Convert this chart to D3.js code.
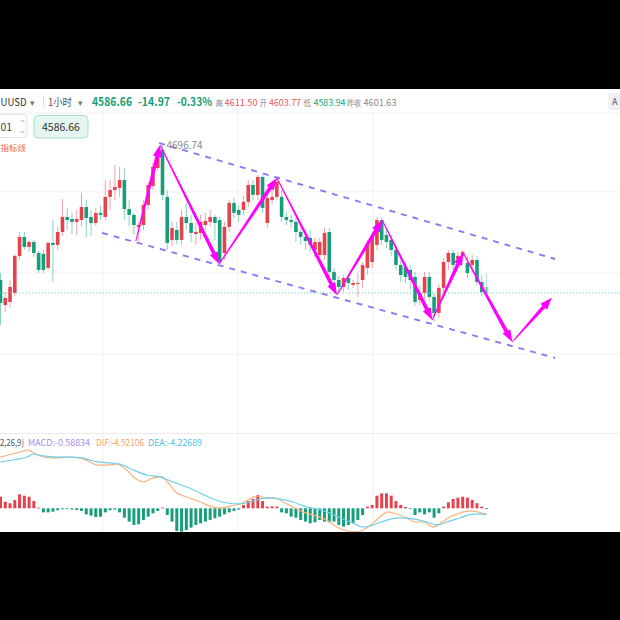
<!DOCTYPE html>
<html>
<head>
<meta charset="utf-8">
<title>XAUUSD 1小时</title>
<script src="https://cdnjs.cloudflare.com/ajax/libs/d3/7.8.5/d3.min.js"></script>
<style>
body { margin: 0; background: #000; }
svg { display: block; }
text { font-family: "Noto Sans CJK SC", "Noto Sans", sans-serif; }
</style>
</head>
<body>
<div id="chart"></div>
<script>
// hourly candles, oldest first
var open = [4596.3, 4577.7, 4580.0, 4586.7, 4614.2, 4628.3, 4620.9, 4624.6, 4616.4, 4615.7,
  4605.3, 4623.9, 4622.4, 4632.0, 4643.2, 4641.7, 4639.5, 4640.9, 4650.6, 4643.2,
  4638.7, 4646.2, 4643.2, 4658.1, 4663.3, 4664.8, 4670.7, 4649.1, 4644.7, 4635.8,
  4637.2, 4652.1, 4666.2, 4679.6, 4693.0, 4658.1, 4626.1, 4633.5, 4626.1, 4643.2,
  4638.7, 4630.5, 4631.3, 4637.2, 4639.5, 4643.2, 4640.9, 4616.4, 4635.8, 4653.6,
  4648.4, 4648.4, 4654.4, 4667.0, 4659.6, 4672.9, 4638.7, 4655.8, 4658.1, 4658.1,
  4643.2, 4640.9, 4639.5, 4632.0, 4628.3, 4627.6, 4618.6, 4614.9, 4614.9, 4632.0,
  4602.3, 4596.3, 4591.1, 4597.8, 4592.6, 4593.4, 4596.3, 4605.3, 4609.7, 4622.4,
  4640.9, 4629.8, 4626.1, 4618.6, 4607.5, 4606.0, 4603.8, 4598.6, 4581.5, 4586.7,
  4598.6, 4583.7, 4571.8, 4590.4, 4609.7, 4616.4, 4611.9, 4614.2, 4609.0, 4607.5,
  4611.2, 4594.8, 4591.1];
var high = [4601.5, 4587.4, 4596.3, 4615.7, 4632.0, 4632.0, 4626.1, 4626.1, 4617.9, 4618.6,
  4624.6, 4640.9, 4635.8, 4656.6, 4649.9, 4646.2, 4648.4, 4661.0, 4655.8, 4648.4,
  4649.9, 4651.4, 4670.7, 4670.7, 4681.9, 4680.4, 4679.6, 4655.8, 4646.2, 4639.5,
  4655.8, 4669.2, 4683.4, 4694.0, 4696.74, 4663.3, 4639.5, 4639.5, 4648.4, 4653.6,
  4644.7, 4638.7, 4644.7, 4646.2, 4648.4, 4644.7, 4643.2, 4639.5, 4655.8, 4657.3,
  4652.1, 4658.8, 4670.7, 4670.7, 4674.4, 4674.4, 4661.0, 4667.0, 4672.2, 4663.3,
  4646.9, 4644.7, 4642.4, 4635.0, 4633.5, 4633.5, 4627.6, 4627.6, 4635.0, 4635.0,
  4605.3, 4599.3, 4600.0, 4600.0, 4596.3, 4601.5, 4609.7, 4626.1, 4632.0, 4643.2,
  4643.2, 4633.5, 4629.1, 4621.6, 4611.2, 4609.7, 4607.5, 4602.3, 4592.6, 4602.3,
  4602.3, 4586.7, 4593.4, 4612.7, 4618.6, 4618.6, 4617.2, 4618.6, 4614.2, 4614.9,
  4614.2, 4600.0, 4601.5];
var low = [4562.9, 4572.5, 4575.5, 4584.4, 4611.2, 4618.6, 4617.2, 4613.4, 4601.5, 4601.5,
  4603.8, 4594.8, 4618.6, 4629.1, 4633.5, 4630.5, 4629.8, 4635.8, 4628.3, 4629.1,
  4636.5, 4640.9, 4640.9, 4648.4, 4655.8, 4658.1, 4640.9, 4636.5, 4629.8, 4625.3,
  4633.5, 4648.4, 4663.3, 4677.4, 4655.8, 4618.6, 4621.6, 4623.1, 4622.4, 4633.5,
  4624.6, 4622.4, 4626.1, 4633.5, 4635.8, 4626.1, 4608.2, 4611.2, 4632.0, 4642.4,
  4639.5, 4644.7, 4650.6, 4655.8, 4655.8, 4646.2, 4635.0, 4652.1, 4655.8, 4639.5,
  4637.2, 4635.0, 4624.6, 4622.4, 4618.6, 4617.2, 4612.7, 4609.7, 4611.2, 4598.6,
  4592.6, 4587.4, 4587.4, 4588.9, 4590.4, 4583.7, 4590.4, 4600.0, 4605.3, 4618.6,
  4622.4, 4620.1, 4614.2, 4603.8, 4594.8, 4594.1, 4588.9, 4577.0, 4577.7, 4581.5,
  4581.5, 4565.1, 4568.1, 4587.4, 4603.8, 4603.8, 4608.2, 4611.2, 4597.8, 4602.3,
  4591.9, 4584.4, 4583.94];
var close = [4579.2, 4582.9, 4591.1, 4614.2, 4628.3, 4620.9, 4624.6, 4616.4, 4603.8, 4603.8,
  4623.9, 4622.4, 4632.0, 4643.2, 4640.9, 4639.5, 4641.7, 4650.6, 4642.4, 4638.7,
  4646.2, 4644.7, 4658.1, 4663.3, 4665.5, 4670.7, 4649.1, 4644.7, 4637.2, 4637.2,
  4652.1, 4667.0, 4680.4, 4692.0, 4659.6, 4623.9, 4635.0, 4626.1, 4643.2, 4638.7,
  4631.3, 4632.0, 4639.5, 4640.2, 4643.2, 4638.7, 4609.7, 4635.8, 4653.6, 4646.2,
  4644.7, 4654.4, 4667.0, 4659.6, 4672.9, 4649.9, 4657.3, 4658.1, 4669.2, 4643.2,
  4640.9, 4639.5, 4632.0, 4628.3, 4625.3, 4622.4, 4624.6, 4624.6, 4631.3, 4602.3,
  4596.3, 4591.1, 4597.8, 4594.1, 4594.1, 4594.1, 4607.5, 4622.4, 4628.3, 4640.9,
  4626.1, 4624.6, 4618.6, 4607.5, 4600.0, 4598.6, 4596.3, 4580.0, 4586.7, 4598.6,
  4583.7, 4571.8, 4590.4, 4609.7, 4616.4, 4607.5, 4614.2, 4617.2, 4601.5, 4611.2,
  4594.8, 4587.4, 4586.66];

// MACD(12,26,9) histogram, one bar per candle
var hist = [8.3, 4.7, 3.6, 5.9, 10.0, 9.0, 8.3, 5.2, 0.5, -2.9,
  -2.9, -2.4, -1.4, -0.7, -0.5, -0.9, -1.2, -1.9, -4.3, -5.2,
  -6.2, -6.0, -2.9, -1.4, -0.9, -2.9, -6.7, -9.5, -11.9, -11.4,
  -8.3, -6.0, -3.6, -1.9, 0.5, -4.8, -9.5, -16.2, -16.7, -15.5,
  -13.8, -11.9, -10.7, -9.5, -8.3, -7.1, -6.0, -4.3, -2.9, -1.9,
  -0.9, 2.4, 5.2, 6.7, 9.5, 5.2, 1.2, 1.4, 1.2, -2.9,
  -3.6, -6.0, -6.7, -8.3, -9.5, -10.7, -10.0, -8.3, -9.5, -10.0,
  -9.5, -11.9, -13.1, -11.9, -10.7, -8.3, -4.8, 1.2, 2.4, 9.0,
  10.7, 10.7, 9.0, 5.2, 2.4, 1.0, -0.5, -4.8, -2.9, -4.3,
  -2.9, -6.7, -3.6, 1.2, 4.3, 6.7, 7.6, 8.3, 7.6, 6.0,
  3.6, 1.2, -0.59];

// DIF / DEA read at these candle positions
var difIdx = [0, 4.1, 5.8, 7.7, 11.0, 14.0, 16.7, 18.8, 20.3, 22.4, 24.4, 26.5, 28.2, 29.9, 32.0,
  33.9, 35.2, 37.0, 39.1, 41.9, 44.6, 46.1, 48.2, 50.3, 51.9, 53.8, 55.9, 57.6, 59.3, 61.4,
  63.5, 65.6, 68.5, 70.6, 72.7, 74.8, 76.1, 78.0, 79.6, 81.3, 83.2, 85.3, 87.0, 88.7, 90.8,
  92.7, 94.3, 96.4, 98.5, 100.2, 102];
var difVal = [36.6, 40.2, 41.6, 38.1, 35.9, 36.6, 35.9, 33.1, 30.9, 30.9, 31.6, 27.4, 21.6, 18.8, 21.6,
  22.4, 18.1, 10.9, 8.1, 4.5, 0.9, 0.2, 1.6, 3.1, 5.9, 8.8, 7.4, 7.4, 4.5, 0.9,
  -2.6, -4.8, -8.4, -13.4, -16.2, -16.9, -15.5, -11.2, -6.2, -2.6, -4.1, -6.9, -9.8, -9.8, -13.4,
  -9.8, -6.2, -3.4, -1.9, -2.6, -4.52];
var deaIdx = [0, 2.6, 5.6, 6.8, 8.9, 11.9, 14.6, 17.3, 20.3, 23.0, 25.1, 27.8, 30.7, 33.5, 36.2,
  39.1, 41.9, 44.6, 47.5, 50.3, 53.0, 55.9, 58.7, 61.4, 64.3, 65.6, 68.5, 71.3, 74.0, 76.1,
  78.2, 81.1, 83.8, 86.6, 89.5, 91.6, 93.7, 96.4, 99.2, 102];
var deaVal = [33.1, 34.5, 36.6, 38.8, 37.4, 36.6, 36.6, 35.9, 33.1, 32.4, 31.6, 27.4, 23.8, 22.4, 18.8,
  15.2, 10.9, 6.6, 3.8, 3.1, 5.2, 7.4, 6.6, 4.5, 0.9, 0.2, -2.6, -6.9, -10.5, -13.4,
  -11.9, -8.4, -6.9, -7.6, -9.8, -11.9, -9.8, -6.9, -4.1, -4.23];

// drawn annotations: zigzag arrows and the falling channel (candle index, price)
var zigIdx = [28.4, 33.5, 45.9, 58.0, 70.6, 80.1, 90.6, 97.1, 107.4, 115.7];
var zigPrice = [4625.3, 4696.74, 4608.2, 4672.2, 4585.2, 4640.9, 4566.6, 4616.4, 4550.2, 4583.0];
var upperIdx = [33.3, 116.4];
var upperPrice = [4698.2, 4611.9];
var lowerIdx = [21.3, 116.4];
var lowerPrice = [4631.3, 4538.3];

var gridPrice = [4661.8, 4601.5, 4541.3];
var gridIdx = [21.5, 49.8, 78.2];
var lastPrice = 4586.66;
var peakLabel = "4696.74";

var red = "#e4434e", green = "#169e7a";
var redWick = "#f3a2a8", greenWick = "#88d3bf";

var W = 620, H = 620;
var svg = d3.select("#chart").append("svg")
            .attr("width", W)
            .attr("height", H);

svg.append("rect").attr("width", W).attr("height", H).attr("fill", "#000");
svg.append("rect").attr("x", 0).attr("y", 89).attr("width", W).attr("height", 443).attr("fill", "#fff");

var xScale = d3.scaleLinear().domain([0, 102]).range([0.5, 486.5]);
var yScale = d3.scaleLinear().domain([4482.5, 4720.5]).range([433, 113]);
var mScale = d3.scaleLinear().domain([-20, 50]).range([536.3, 438.3]);

var defs = svg.append("defs");
defs.append("clipPath").attr("id", "mainClip")
    .append("rect").attr("x", 0).attr("y", 113).attr("width", W).attr("height", 320);
defs.append("clipPath").attr("id", "macdClip")
    .append("rect").attr("x", 0).attr("y", 434).attr("width", W).attr("height", 98);

// grid
svg.append("line").attr("x1", 0).attr("x2", W).attr("y1", 113).attr("y2", 113)
   .attr("stroke", "#f0f0f0");
svg.selectAll(".hgrid").data(gridPrice).enter().append("line")
   .attr("x1", 0).attr("x2", W)
   .attr("y1", d => yScale(d)).attr("y2", d => yScale(d))
   .attr("stroke", "#f2f2f2");
svg.selectAll(".vgrid").data(gridIdx).enter().append("line")
   .attr("x1", d => xScale(d)).attr("x2", d => xScale(d))
   .attr("y1", 113).attr("y2", 532)
   .attr("stroke", "#f2f2f2");
svg.append("line").attr("x1", 0).attr("x2", W).attr("y1", 433.5).attr("y2", 433.5)
   .attr("stroke", "#ececec");

// candles
var idx = d3.range(open.length);
var main = svg.append("g").attr("clip-path", "url(#mainClip)");
var isUp = i => close[i] >= open[i];
var lastI = open.length - 1;

main.selectAll(".wick").data(idx).enter().append("line")
    .attr("x1", i => xScale(i)).attr("x2", i => xScale(i))
    .attr("y1", i => yScale(high[i])).attr("y2", i => yScale(low[i]))
    .attr("stroke", i => isUp(i) ? redWick : greenWick)
    .attr("stroke-width", 1)
    .attr("opacity", i => i === lastI ? 0.6 : 1);

main.selectAll(".body").data(idx).enter().append("rect")
    .attr("x", i => xScale(i) - 1.8)
    .attr("width", 3.6)
    .attr("y", i => yScale(Math.max(open[i], close[i])))
    .attr("height", i => Math.max(1, Math.abs(yScale(open[i]) - yScale(close[i]))))
    .attr("fill", i => isUp(i) ? red : green)
    .attr("opacity", i => i === lastI ? 0.45 : 1);

// last price line
main.append("line")
    .attr("x1", 0).attr("x2", W)
    .attr("y1", yScale(lastPrice)).attr("y2", yScale(lastPrice))
    .attr("stroke", "#5ccbbd").attr("stroke-width", 1)
    .attr("stroke-dasharray", "1.2,2");

// channel
function channel(ix, pr) {
    main.append("line")
        .attr("x1", xScale(ix[0])).attr("y1", yScale(pr[0]))
        .attr("x2", xScale(ix[1])).attr("y2", yScale(pr[1]))
        .attr("stroke", "#8e78f3").attr("stroke-width", 1.9)
        .attr("stroke-dasharray", "6,6");
}
channel(upperIdx, upperPrice);
channel(lowerIdx, lowerPrice);

// tapered arrow from a to b
function arrowShape(a, b) {
    var dx = b[0] - a[0], dy = b[1] - a[1];
    var len = Math.sqrt(dx * dx + dy * dy);
    var ux = dx / len, uy = dy / len, nx = -uy, ny = ux;
    var headLen = 12, headW = 4.4, w0 = 0.5, w1 = 1.9;
    var bx = b[0] - ux * headLen, by = b[1] - uy * headLen;
    return [
        [a[0] + nx * w0, a[1] + ny * w0],
        [bx + nx * w1, by + ny * w1],
        [bx + nx * headW, by + ny * headW],
        b,
        [bx - nx * headW, by - ny * headW],
        [bx - nx * w1, by - ny * w1],
        [a[0] - nx * w0, a[1] - ny * w0]
    ];
}
var zigPts = zigIdx.map((d, i) => [xScale(d), yScale(zigPrice[i])]);
var segs = d3.range(zigPts.length - 1);
main.selectAll(".arrow").data(segs).enter().append("polygon")
    .attr("points", i => arrowShape(zigPts[i], zigPts[i + 1]).map(p => p.join(",")).join(" "))
    .attr("fill", "#ff00ff");

main.append("text")
    .attr("x", xScale(34) + 4).attr("y", yScale(high[34]) + 4)
    .attr("font-size", "10px").attr("fill", "#8a8a8a")
    .text(peakLabel);

// MACD pane
var macd = svg.append("g").attr("clip-path", "url(#macdClip)");
macd.selectAll(".hbar").data(idx).enter().append("rect")
    .attr("x", i => xScale(i) - 1.5)
    .attr("width", 3)
    .attr("y", i => mScale(Math.max(0, hist[i])))
    .attr("height", i => Math.max(0.8, Math.abs(mScale(hist[i]) - mScale(0))))
    .attr("fill", i => hist[i] >= 0 ? red : green);

var lineGen = d3.line().curve(d3.curveMonotoneX);
macd.append("path")
    .attr("d", lineGen(difIdx.map((d, i) => [xScale(d), mScale(difVal[i])])))
    .attr("fill", "none").attr("stroke", "#f8b27c").attr("stroke-width", 1.2);
macd.append("path")
    .attr("d", lineGen(deaIdx.map((d, i) => [xScale(d), mScale(deaVal[i])])))
    .attr("fill", "none").attr("stroke", "#6ccfea").attr("stroke-width", 1.2);

// only the part of each label that shows inside the window
var legend = [
    {t: "2,26,9)", x: 0, c: "#555", w: 24},
    {t: "MACD:-0.58834", x: 28, c: "#a68ee8", w: 62},
    {t: "DIF:-4.52106", x: 96, c: "#f5a462", w: 48},
    {t: "DEA:-4.22689", x: 148, c: "#4fc4e4", w: 54}
];
svg.selectAll(".legend").data(legend).enter().append("text")
   .attr("x", d => d.x).attr("y", 446)
   .attr("font-size", "9.5px").attr("fill", d => d.c)
   .attr("textLength", d => d.w)
   .attr("lengthAdjust", "spacingAndGlyphs")
   .text(d => d.t);

// header bar
var head = [
    {t: "UUSD", x: 0.5, c: "#333", s: 11, b: false, w: 26},
    {t: "▾", x: 30, c: "#777", s: 9, b: false, w: null},
    {t: "1小时", x: 48, c: "#555", s: 10.5, b: false, w: 24},
    {t: "▾", x: 78, c: "#777", s: 9, b: false, w: null},
    {t: "4586.66", x: 92, c: "#16a079", s: 11.5, b: true, w: 40},
    {t: "-14.97", x: 138, c: "#16a079", s: 11.5, b: true, w: 32},
    {t: "-0.33%", x: 177, c: "#16a079", s: 11.5, b: true, w: 35},
    {t: "高", x: 215.5, c: "#888", s: 7.5, b: false, w: null},
    {t: "4611.50", x: 224.5, c: "#e8585f", s: 9.5, b: false, w: 33},
    {t: "开", x: 259.5, c: "#888", s: 7.5, b: false, w: null},
    {t: "4603.77", x: 269, c: "#e8585f", s: 9.5, b: false, w: 32},
    {t: "低", x: 303.5, c: "#888", s: 7.5, b: false, w: null},
    {t: "4583.94", x: 313.5, c: "#1aa37c", s: 9.5, b: false, w: 32},
    {t: "昨收", x: 347, c: "#888", s: 7.5, b: false, w: 14},
    {t: "4601.63", x: 363.5, c: "#888", s: 9.5, b: false, w: 33}
];
svg.selectAll(".head").data(head).enter().append("text")
   .attr("x", d => d.x).attr("y", 106)
   .attr("font-size", d => d.s + "px")
   .attr("font-weight", d => d.b ? "bold" : "normal")
   .attr("fill", d => d.c)
   .attr("textLength", d => d.w)
   .attr("lengthAdjust", "spacingAndGlyphs")
   .text(d => d.t);
svg.append("line").attr("x1", 43.5).attr("x2", 43.5).attr("y1", 96).attr("y2", 107)
   .attr("stroke", "#dcdcdc");

// right edge button
svg.append("rect").attr("x", 608).attr("y", 93).attr("width", 20).attr("height", 17).attr("rx", 3)
   .attr("fill", "#eef0f3");
svg.append("text").attr("x", 612).attr("y", 105).attr("font-size", "9px").attr("fill", "#555").text("A");

// lot input and price button
svg.append("rect").attr("x", -4).attr("y", 114.5).attr("width", 31).attr("height", 23).attr("rx", 4)
   .attr("fill", "#fff").attr("stroke", "#e2e2e2");
svg.append("text").attr("x", 0.5).attr("y", 130.5)
   .attr("font-size", "10.5px").attr("fill", "#444").text("01");
svg.append("path").attr("d", "M20.5,122 L22.5,120 L24.5,122 M20.5,131 L22.5,133 L24.5,131")
   .attr("fill", "none").attr("stroke", "#999").attr("stroke-width", 0.9);
svg.append("rect").attr("x", 34).attr("y", 115.5).attr("width", 54).attr("height", 22.5).attr("rx", 4)
   .attr("fill", "#e5f6f0").attr("stroke", "#a6dfcb");
svg.append("text").attr("x", 61).attr("y", 131).attr("text-anchor", "middle")
   .attr("font-size", "10.5px").attr("fill", "#333").text("4586.66");

svg.append("text").attr("x", 0.5).attr("y", 151)
   .attr("font-size", "8.5px").attr("fill", "#f0694c").text("指标线");
</script>
</body>
</html>
